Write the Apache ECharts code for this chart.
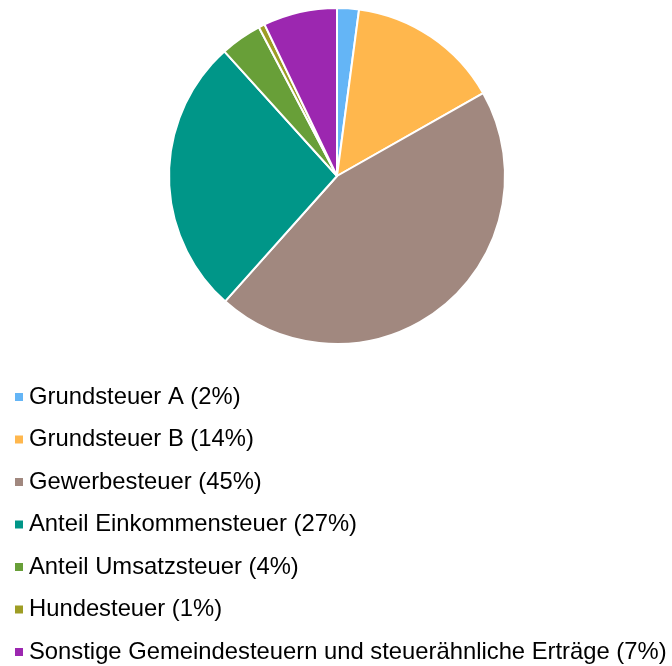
<!DOCTYPE html>
<html>
<head>
<meta charset="utf-8">
<script src="https://cdn.jsdelivr.net/npm/echarts@6/dist/echarts.min.js"></script>
<style>
  html, body { margin: 0; padding: 0; background: #fff; }
  #chart { width: 672px; height: 666px; }
</style>
</head>
<body>
<div id="chart"></div>
<script>
// Steueranteile
var categories = [
  'Grundsteuer A',
  'Grundsteuer B',
  'Gewerbesteuer',
  'Anteil Einkommensteuer',
  'Anteil Umsatzsteuer',
  'Hundesteuer',
  'Sonstige Gemeindesteuern und steuerähnliche Erträge'
];
var values = [2.1, 14.7, 44.8, 26.7, 4.0, 0.6, 7.1];
var pctLabels = [2, 14, 45, 27, 4, 1, 7];
var colors = ['#64B5F6', '#FFB74D', '#A1887F', '#009688', '#689F38', '#9E9D24', '#9C27B0'];

var myChart = echarts.init(document.getElementById('chart'));

var pieData = categories.map(function (name, i) {
  return { name: name, value: values[i] };
});

var option = {
  animation: false,
  color: colors,
  legend: {
    orient: 'vertical',
    left: 13,
    top: 385,
    height: 290,
    padding: 0,
    icon: 'rect',
    itemWidth: 10,
    itemHeight: 10,
    itemGap: 18.5,
    itemTextGap: 6,
    textStyle: {
      fontFamily: 'Liberation Sans, Arial, sans-serif',
      fontSize: 23.8,
      lineHeight: 24,
      color: '#000'
    },
    formatter: function (name) {
      var i = categories.indexOf(name);
      return name + ' (' + pctLabels[i] + '%)';
    }
  },
  series: [
    {
      type: 'pie',
      center: [337, 176],
      radius: [0, 168],
      startAngle: 90,
      clockwise: true,
      label: { show: false },
      labelLine: { show: false },
      itemStyle: {
        borderColor: '#fff',
        borderWidth: 2
      },
      emphasis: { disabled: true },
      data: pieData
    }
  ]
};

myChart.setOption(option);
</script>
</body>
</html>
